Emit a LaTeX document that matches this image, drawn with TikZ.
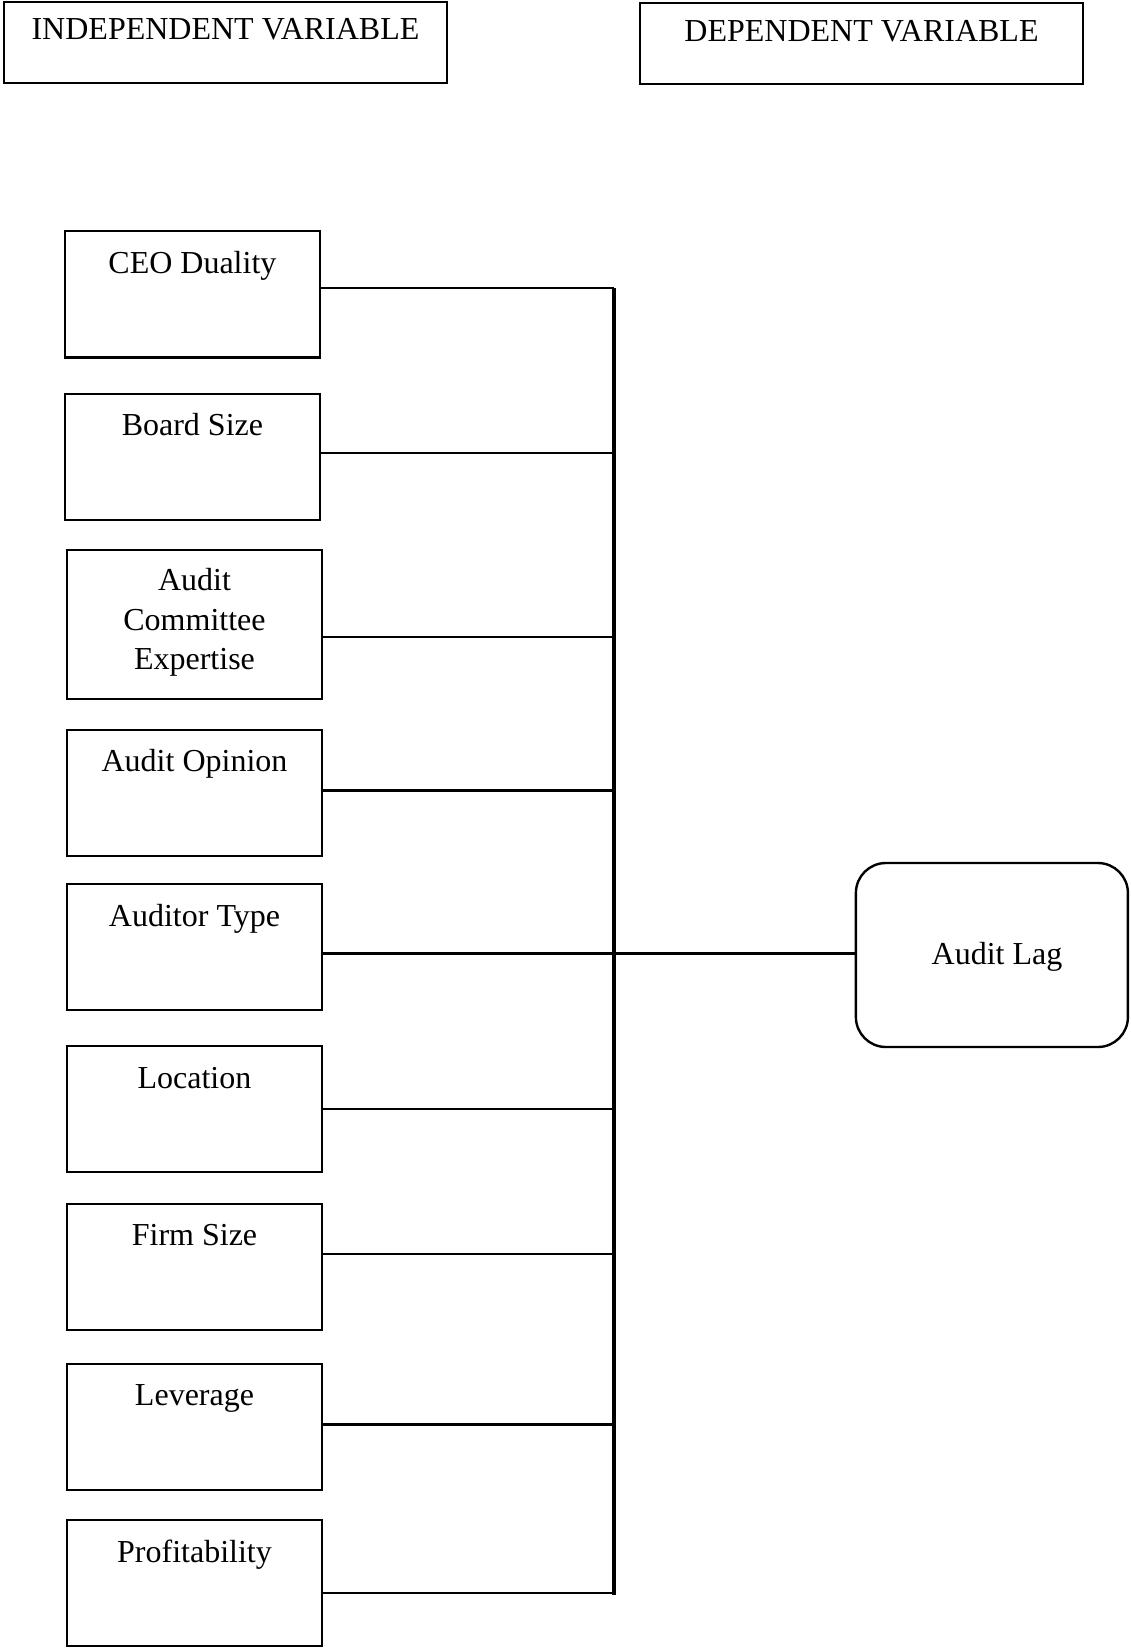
\documentclass[tikz,border=0pt]{standalone}
\usepackage{fontspec}
\setmainfont{Liberation Serif}
\begin{document}
\begin{tikzpicture}[x=0.5pt,y=-0.5pt,
  box/.style={draw, line width=1.1pt, rectangle, inner sep=0pt, outer sep=0pt},
  ivbox/.style={box, minimum width=127.2pt, minimum height=63pt},
  hdr/.style={box, minimum width=221.4pt, minimum height=40.5pt},
  lbl/.style={anchor=base, inner sep=0pt, font=\fontsize{16}{19.7}\selectfont, align=center},
  conn/.style={line width=1.1pt},
  bus/.style={line width=2pt}]
\useasboundingbox (0,0) rectangle (1130,1648);
% headers
\node[hdr] (ind) at (225.5,42.5) {};
\node[lbl] (indt) at (225.5,40) {INDEPENDENT VARIABLE};
\node[hdr] (dep) at (861.5,43.5) {};
\node[lbl] (dept) at (861.5,42) {DEPENDENT VARIABLE};
% independent variable boxes
\node[ivbox] (ceo) at (192.4,294.4) {};
\node[lbl] (ceot) at (192.4,273.3) {CEO Duality};
\node[ivbox] (bs) at (192.4,456.8) {};
\node[lbl] (bst) at (192.4,435.2) {Board Size};
\node[box, minimum width=127.2pt, minimum height=74.7pt] (ace) at (194.5,624.5) {};
\node[lbl] (acet) at (194.5,669.6) {Audit\\Committee\\Expertise};
\node[ivbox] (ao) at (194.5,792.6) {};
\node[lbl] (aot) at (194.5,771.6) {Audit Opinion};
\node[ivbox] (at) at (194.5,947.2) {};
\node[lbl] (att) at (194.5,926.1) {Auditor Type};
\node[ivbox] (loc) at (194.5,1109) {};
\node[lbl] (loct) at (194.5,1088) {Location};
\node[ivbox] (fs) at (194.5,1266.7) {};
\node[lbl] (fst) at (194.5,1245.7) {Firm Size};
\node[ivbox] (lev) at (194.5,1427) {};
\node[lbl] (levt) at (194.5,1405.5) {Leverage};
\node[ivbox] (prof) at (194.5,1583.2) {};
\node[lbl] (proft) at (194.5,1562.1) {Profitability};
% dependent
\node[box, rounded corners=15pt, line width=1.2pt, minimum width=136pt, minimum height=92pt] (lag) at (991.9,955) {};
\node[lbl] (lagt) at (997,964) {Audit Lag};
% bus coordinates
\coordinate (b1) at (613.9,288);
\coordinate (b2) at (613.9,453.1);
\coordinate (b3) at (613.9,637);
\coordinate (b4) at (613.9,790.5);
\coordinate (b5) at (613.9,953.4);
\coordinate (b6) at (613.9,1109);
\coordinate (b7) at (613.9,1254.1);
\coordinate (b8) at (613.9,1424.4);
\coordinate (b9) at (613.9,1592.6);
\coordinate (bend) at (613.9,1595);
\draw[bus] (b1) -- (bend);
\draw[conn] (ceo.east |- b1) -- (b1);
\draw[conn] (bs.east |- b2) -- (b2);
\draw[conn] (ace.east |- b3) -- (b3);
\draw[conn] (ao.east |- b4) -- (b4);
\draw[conn] (at.east |- b5) -- (lag.west |- b5);
\draw[conn] (loc.east |- b6) -- (b6);
\draw[conn] (fs.east |- b7) -- (b7);
\draw[conn] (lev.east |- b8) -- (b8);
\draw[conn] (prof.east |- b9) -- (b9);
\end{tikzpicture}
\end{document}
